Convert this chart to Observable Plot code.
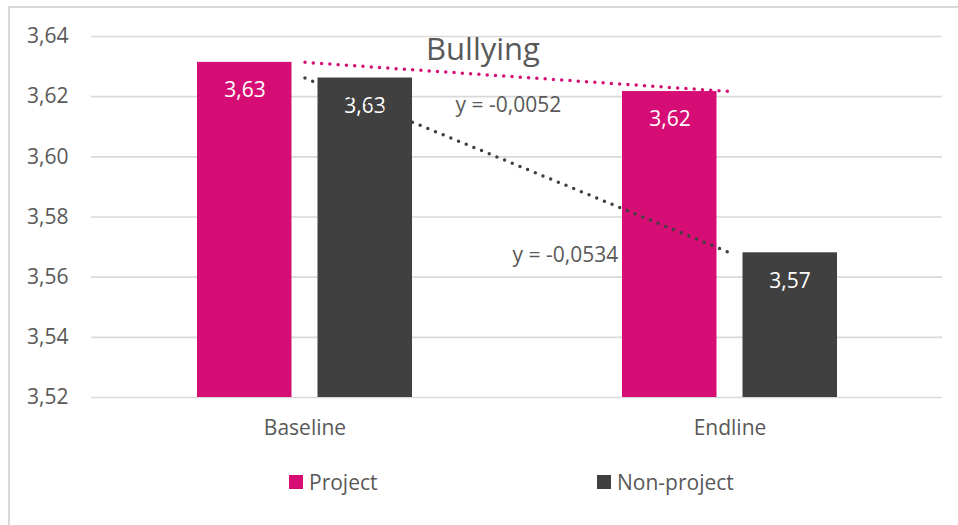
<!DOCTYPE html>
<html>
<head>
<meta charset="utf-8">
<script src="https://cdn.jsdelivr.net/npm/d3@7"></script>
<script src="https://cdn.jsdelivr.net/npm/@observablehq/plot@0.6"></script>
<style>
  html, body { margin: 0; padding: 0; background: #fff; }
  #wrap { position: relative; width: 958px; height: 525px; overflow: hidden; font-family: "Open Sans", sans-serif; color: #595959; }
  #frame { position: absolute; left: 8px; top: 6px; width: 1000px; height: 600px; border-top: 2px solid #d9d9d9; border-left: 2px solid #d9d9d9; }
  #chart { position: absolute; left: 0; top: 0; }
  .leg { position: absolute; display: flex; align-items: center; font-size: 21px; line-height: 1; }
  .sw { width: 14px; height: 14px; margin-right: 6px; }
</style>
</head>
<body>
<div id="wrap">
  <div id="frame"></div>
  <div id="chart"></div>
  <div id="legend"></div>
</div>
<script>
const title = "Bullying";
const categories = ["Baseline", "Endline"];
const series = ["Project", "Non-project"];
const projectValues = [3.6314, 3.6217];
const nonProjectValues = [3.6262, 3.5681];
const yTicks = [3.52, 3.54, 3.56, 3.58, 3.60, 3.62, 3.64];
const trendLabels = ["y = -0,0052", "y = -0,0534"];
const colors = ["#d60d74", "#404040"];

const fmt = v => v.toFixed(2).replace(".", ",");

const data = categories.flatMap((c, i) => [
  {category: c, series: series[0], value: projectValues[i]},
  {category: c, series: series[1], value: nonProjectValues[i]}
]);
const proj = data.filter(d => d.series === series[0]);
const nonp = data.filter(d => d.series === series[1]);

const chart = Plot.plot({
  width: 958,
  height: 450,
  marginLeft: 91,
  marginRight: 16,
  marginTop: 36,
  marginBottom: 53,
  style: {fontFamily: "Open Sans", fontSize: "21px", color: "#595959", background: "transparent", overflow: "visible"},
  x: {type: "band", domain: categories, padding: 0, tickSize: 0, tickPadding: 23, label: null},
  y: {domain: [yTicks[0], yTicks[yTicks.length - 1]], ticks: yTicks, tickFormat: fmt, tickSize: 0, tickPadding: 23, label: null},
  color: {domain: series, range: colors},
  marks: [
    Plot.ruleY(yTicks, {stroke: "#d9d9d9", strokeWidth: 1.6}),
    Plot.barY(proj, {x: "category", y1: yTicks[0], y2: "value", fill: colors[0], insetLeft: 105, insetRight: 225.5}),
    Plot.barY(nonp, {x: "category", y1: yTicks[0], y2: "value", fill: colors[1], insetLeft: 225.5, insetRight: 105}),
    Plot.text(proj, {x: "category", y: "value", text: d => fmt(d.value), dx: -60, dy: 28, fill: "#fff"}),
    Plot.text(nonp, {x: "category", y: "value", text: d => fmt(d.value), dx: 60, dy: 28, fill: "#fff"}),
    Plot.line(proj, {x: "category", y: "value", stroke: colors[0], strokeWidth: 3.5, strokeDasharray: "0,8.3", strokeLinecap: "round"}),
    Plot.line(nonp, {x: "category", y: "value", stroke: colors[1], strokeWidth: 3.5, strokeDasharray: "0,8.3", strokeLinecap: "round"}),
    Plot.text([trendLabels[0]], {frameAnchor: "top-left", textAnchor: "start", lineAnchor: "middle", dx: 364, dy: 69, fill: "#595959"}),
    Plot.text([trendLabels[1]], {frameAnchor: "top-left", textAnchor: "start", lineAnchor: "middle", dx: 421, dy: 219, fill: "#595959"}),
    Plot.text([title], {frameAnchor: "top", lineAnchor: "middle", dx: -34, dy: 14, fontSize: 31, fill: "#595959"})
  ]
});
document.getElementById("chart").appendChild(chart);

const legend = document.getElementById("legend");
const legLeft = [289, 597];
series.forEach((s, i) => {
  const item = document.createElement("div");
  item.className = "leg";
  item.style.left = legLeft[i] + "px";
  item.style.top = "471px";
  item.style.height = "22px";
  const sw = document.createElement("div");
  sw.className = "sw";
  sw.style.background = colors[i];
  const t = document.createElement("span");
  t.textContent = s;
  item.appendChild(sw);
  item.appendChild(t);
  legend.appendChild(item);
});
</script>
</body>
</html>
